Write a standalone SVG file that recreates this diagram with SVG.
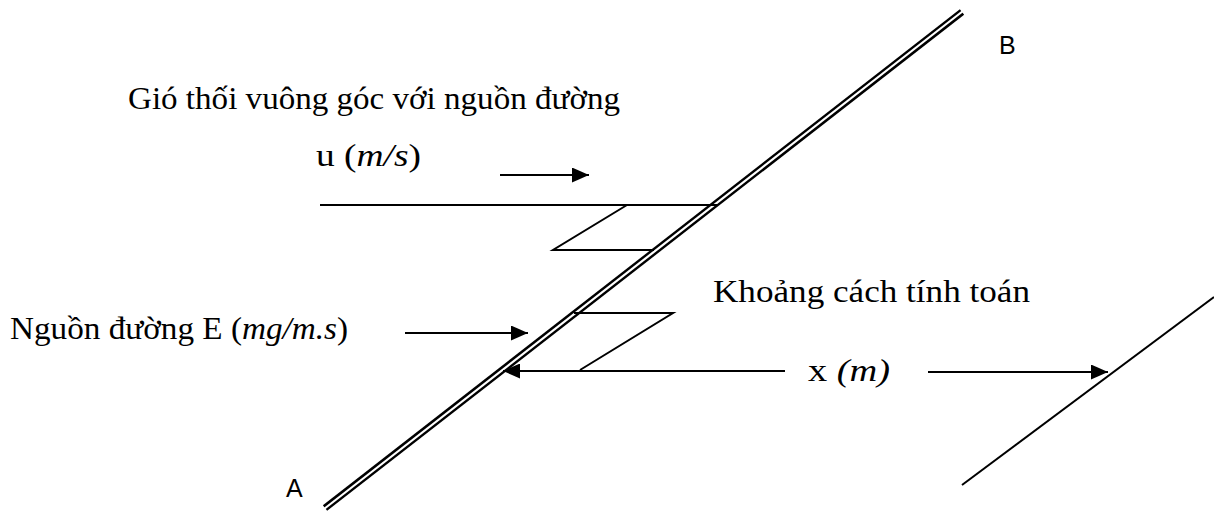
<svg xmlns="http://www.w3.org/2000/svg" width="1214" height="512" viewBox="0 0 1214 512">
<style>
.t{font-family:"Liberation Serif","Times New Roman",serif;font-size:31px;fill:#000}
.s{font-family:"Liberation Sans",Arial,sans-serif;font-size:25px;fill:#000}
.ln{stroke:#000;stroke-width:2;fill:none}
.it{font-style:italic}
</style>
<defs>
<marker id="ah" viewBox="0 0 10 10" refX="10" refY="5" markerWidth="17" markerHeight="15" preserveAspectRatio="none" markerUnits="userSpaceOnUse" orient="auto">
<path d="M0,0 L10,5 L0,10 z" fill="#000"/>
</marker>
</defs>
<rect width="1214" height="512" fill="#fff"/>
<g id="source-line">
<line x1="325" y1="508" x2="962" y2="12" stroke="#000" stroke-width="7"/>
<line x1="324" y1="509" x2="963" y2="11" stroke="#fff" stroke-width="2.2"/>
</g>
<g id="connectors">
<line class="ln" x1="320" y1="205" x2="718" y2="205"/>
<polyline class="ln" points="627,205 553,250 654,250"/>
<polyline class="ln" points="574,313 673,313 580,370"/>
<line class="ln" x1="500" y1="175" x2="589" y2="175" marker-end="url(#ah)"/>
<line class="ln" x1="405" y1="333" x2="528" y2="333" marker-end="url(#ah)"/>
<line class="ln" x1="785" y1="371" x2="503" y2="371" marker-end="url(#ah)"/>
<line class="ln" x1="928" y1="372" x2="1108" y2="372" marker-end="url(#ah)"/>
<line class="ln" x1="962" y1="485" x2="1214" y2="297"/>
</g>
<g id="label-wind">
<text class="t" x="128" y="109" textLength="492" lengthAdjust="spacingAndGlyphs">Gió thối vuông góc với nguồn đường</text>
<text class="t" x="316" y="166" textLength="105" lengthAdjust="spacingAndGlyphs">u (<tspan class="it">m/s</tspan>)</text>
</g>
<g id="label-source">
<text class="t" x="10" y="339" textLength="338" lengthAdjust="spacingAndGlyphs">Nguồn đường E (<tspan class="it">mg/m.s</tspan>)</text>
</g>
<g id="label-distance">
<text class="t" x="713" y="302" textLength="317" lengthAdjust="spacingAndGlyphs">Khoảng cách tính toán</text>
<text class="t" x="808" y="381" textLength="82" lengthAdjust="spacingAndGlyphs">x <tspan class="it">(m)</tspan></text>
</g>
<g id="label-A"><text class="s" x="286" y="497">A</text></g>
<g id="label-B"><text class="s" x="999" y="54">B</text></g>
</svg>
